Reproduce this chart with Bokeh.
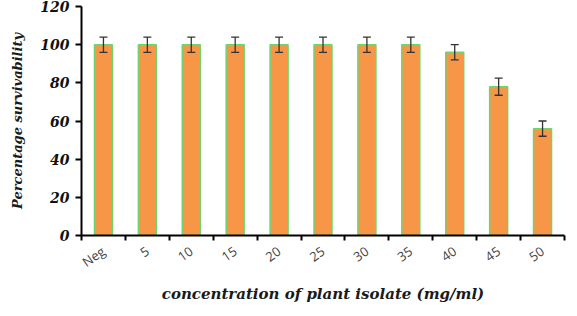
import math
from bokeh.plotting import figure
from bokeh.models import ColumnDataSource, Whisker, TeeHead, FixedTicker, Range1d
from bokeh.embed import file_html
from bokeh.resources import INLINE

categories = ["Neg", "5", "10", "15", "20", "25", "30", "35", "40", "45", "50"]
survival = [100, 100, 100, 100, 100, 100, 100, 100, 96, 78, 56]
errors = [4, 4, 4, 4, 4, 4, 4, 4, 4, 4.5, 4]
y_ticks = [0, 20, 40, 60, 80, 100, 120]
x_title = "concentration of plant isolate (mg/ml)"
y_title = "Percentage survivability"

xs = [i + 0.5 for i in range(len(categories))]
src = ColumnDataSource(dict(
    x=xs, top=survival,
    upper=[v + e for v, e in zip(survival, errors)],
    lower=[v - e for v, e in zip(survival, errors)],
))

p = figure(width=569, height=306, output_backend="svg", toolbar_location=None,
           x_range=Range1d(0, len(categories)), y_range=Range1d(0, 120),
           min_border_left=81, min_border_right=5, min_border_top=6, min_border_bottom=70)
p.outline_line_color = None
p.xgrid.visible = False
p.ygrid.visible = False

p.vbar(x="x", top="top", width=0.41, source=src, fill_color="#F79646",
       line_color="#6FD46F", line_width=1.5)

w = Whisker(base="x", upper="upper", lower="lower", source=src, level="overlay",
            line_color="#333333", line_width=1.3,
            upper_head=TeeHead(size=8, line_color="#333333", line_width=1.3),
            lower_head=TeeHead(size=8, line_color="#333333", line_width=1.3))
p.add_layout(w)

# x axis
xa = p.xaxis[0]
xa.ticker = FixedTicker(ticks=xs, minor_ticks=list(range(len(categories) + 1)))
xa.major_label_overrides = {x: c for x, c in zip(xs, categories)}
xa.major_tick_line_color = None
xa.minor_tick_line_color = "black"
xa.minor_tick_line_width = 2
xa.minor_tick_out = 5
xa.minor_tick_in = 0
xa.axis_line_color = "black"
xa.axis_line_width = 2
xa.major_label_orientation = math.radians(35)
xa.major_label_text_font = "Open Sans"
xa.major_label_text_font_size = "13px"
xa.major_label_text_color = "#444444"
xa.major_label_standoff = 8
xa.axis_label = x_title
xa.axis_label_text_font = "DejaVu Serif"
xa.axis_label_text_font_style = "bold italic"
xa.axis_label_text_font_size = "15px"
xa.axis_label_text_color = "#1a1a1a"
xa.axis_label_standoff = 4

# y axis
ya = p.yaxis[0]
ya.ticker = FixedTicker(ticks=y_ticks)
ya.minor_tick_line_color = None
ya.major_tick_line_color = "black"
ya.major_tick_line_width = 2
ya.major_tick_out = 6
ya.major_tick_in = 0
ya.axis_line_color = "black"
ya.axis_line_width = 2
ya.major_label_text_font = "DejaVu Serif"
ya.major_label_text_font_style = "bold italic"
ya.major_label_text_font_size = "14px"
ya.major_label_text_color = "#111111"
ya.major_label_standoff = 6
ya.axis_label = y_title
ya.axis_label_text_font = "DejaVu Serif"
ya.axis_label_text_font_style = "bold italic"
ya.axis_label_text_font_size = "13px"
ya.axis_label_text_color = "#1a1a1a"
ya.axis_label_standoff = 12

open("out.html", "w").write(file_html(p, INLINE))
